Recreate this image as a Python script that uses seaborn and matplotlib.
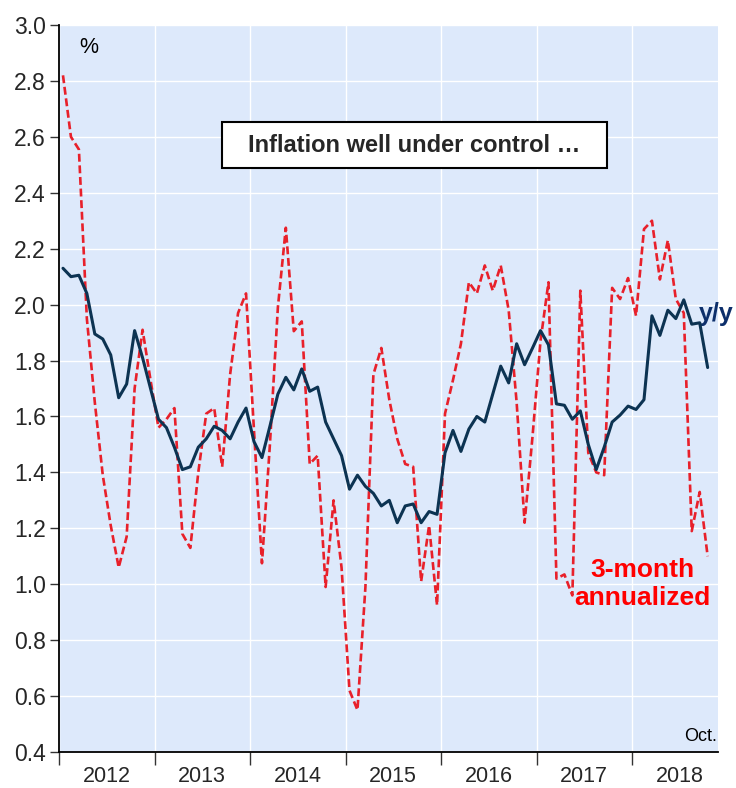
import numpy as np
import pandas as pd
import matplotlib
matplotlib.use("Agg")
import matplotlib.pyplot as plt
from matplotlib.patches import Rectangle
import seaborn as sns

# ---- data (monthly, Jan 2012 .. Oct 2018) ----
years = ["2012", "2013", "2014", "2015", "2016", "2017", "2018"]

yoy = [
    2.13, 2.10, 2.105, 2.04, 1.895, 1.877, 1.82, 1.667, 1.716, 1.907, 1.81, 1.70,   # 2012
    1.59, 1.56, 1.49, 1.41, 1.42, 1.49, 1.52, 1.565, 1.55, 1.52, 1.58, 1.63,        # 2013
    1.51, 1.453, 1.565, 1.68, 1.74, 1.695, 1.77, 1.69, 1.705, 1.58, 1.52, 1.46,     # 2014
    1.34, 1.39, 1.35, 1.325, 1.28, 1.30, 1.22, 1.28, 1.287, 1.22, 1.26, 1.25,       # 2015
    1.47, 1.55, 1.475, 1.555, 1.60, 1.58, 1.68, 1.78, 1.72, 1.86, 1.785, 1.845,     # 2016
    1.907, 1.856, 1.645, 1.64, 1.59, 1.62, 1.50, 1.41, 1.49, 1.58, 1.605, 1.637,    # 2017
    1.625, 1.66, 1.96, 1.89, 1.98, 1.95, 2.017, 1.93, 1.935, 1.775,                 # 2018
]

ann3m = [
    2.82, 2.60, 2.555, 1.95, 1.65, 1.39, 1.21, 1.06, 1.17, 1.70, 1.91, 1.73,        # 2012
    1.56, 1.59, 1.63, 1.18, 1.13, 1.40, 1.61, 1.63, 1.42, 1.75, 1.97, 2.04,         # 2013
    1.55, 1.075, 1.50, 1.99, 2.275, 1.905, 1.94, 1.43, 1.46, 0.99, 1.30, 1.06,      # 2014
    0.62, 0.55, 0.99, 1.75, 1.845, 1.66, 1.52, 1.43, 1.42, 1.01, 1.21, 0.925,       # 2015
    1.61, 1.73, 1.86, 2.08, 2.04, 2.14, 2.05, 2.14, 1.98, 1.65, 1.22, 1.53,         # 2016
    1.87, 2.08, 1.02, 1.035, 0.96, 2.05, 1.47, 1.40, 1.39, 2.06, 2.02, 2.095,       # 2017
    1.96, 2.27, 2.30, 2.09, 2.23, 2.02, 1.97, 1.19, 1.33, 1.10,                     # 2018
]

months = pd.date_range("2012-01-01", periods=len(yoy), freq="MS")

NAVY = "#0c3352"
RED = "#e8202a"
BG = "#dde9fb"

sns.set_style("white", {"axes.facecolor": BG, "grid.color": "white",
                        "axes.edgecolor": "black"})
plt.rcParams["font.family"] = ["Liberation Sans", "DejaVu Sans"]

df = pd.DataFrame({
    "t": np.arange(len(yoy)) + 0.5,
    "date": months,
    "yoy": yoy,
    "ann3m": ann3m,
})

fig = plt.figure(figsize=(7.36, 7.88), dpi=100)
ax = fig.add_axes([59 / 736, 1 - 752 / 788, (718 - 59) / 736, (752 - 25) / 788])

sns.lineplot(data=df, x="t", y="ann3m", ax=ax, color=RED, linewidth=1.9,
             zorder=3)
ax.lines[-1].set_dashes([3.0, 1.4])
sns.lineplot(data=df, x="t", y="yoy", ax=ax, color=NAVY, linewidth=2.2, zorder=4)

ax.set_xlim(0, 82.8)
ax.set_ylim(0.4, 3.0)
ax.set_xlabel("")
ax.set_ylabel("")

# y axis
yt = np.round(np.arange(0.4, 3.01, 0.2), 1)
ax.set_yticks(yt)
ax.set_yticklabels([f"{v:.1f}" for v in yt])
ax.tick_params(axis="y", which="major", direction="out", length=6.5, width=1,
               color="#333333", labelsize=16.5, pad=3, left=True)

# x axis: ticks at year boundaries, labels centred within years
ax.set_xticks(np.arange(0, 73, 12))
ax.set_xticklabels([""] * 7)
ax.set_xticks(np.arange(6, 79, 12), minor=True)
ax.set_xticklabels(years, minor=True)
ax.tick_params(axis="x", which="major", direction="out", length=9, width=1,
               color="#333333", bottom=True)
ax.tick_params(axis="x", which="minor", length=0, labelsize=15.5, pad=10)

ax.grid(True, which="major", color="white", linewidth=1.0)
ax.set_axisbelow(True)
for s in ["top", "right"]:
    ax.spines[s].set_visible(False)
for s in ["left", "bottom"]:
    ax.spines[s].set_linewidth(1.3)
    ax.spines[s].set_color("black")

# annotations
ax.text(2.6, 2.92, "%", fontsize=15.5, ha="left", va="center", color="black")
ax.text(82.7, 0.455, "Oct.", fontsize=13, ha="right", va="center", color="black")
ax.text(80.4, 1.965, "y/y", fontsize=18, fontweight="bold", color="#0d2f6b",
        ha="left", va="center")
ax.text(73.3, 1.0, "3-month\nannualized", fontsize=19, fontweight="bold",
        color="#ff0000", ha="center", va="center", linespacing=1.2)

# title box
x0, x1 = (222 - 59) / 659, (607 - 59) / 659
y0, y1 = (752 - 168) / 727, (752 - 122) / 727
ax.add_patch(Rectangle((x0, y0), x1 - x0, y1 - y0, transform=ax.transAxes,
                       facecolor="white", edgecolor="black", linewidth=1.5,
                       zorder=6))
ax.text((x0 + x1) / 2, (y0 + y1) / 2, "Inflation well under control \u2026",
        transform=ax.transAxes, ha="center", va="center", fontsize=17,
        fontweight="bold", zorder=7)

fig.savefig("out.png", dpi=100)
